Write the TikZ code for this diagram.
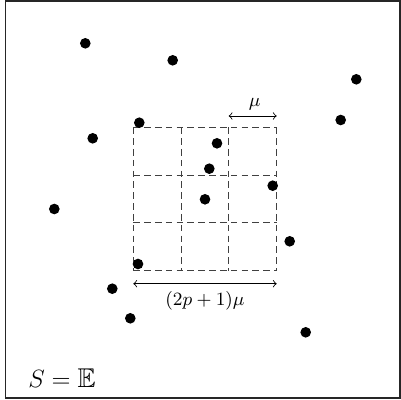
\documentclass[tikz,border=0pt]{standalone}
\usepackage{amssymb}
\begin{document}
\begin{tikzpicture}[x=0.48pt,y=-0.48pt,
  dot/.style={circle,fill=black,inner sep=0pt,minimum size=5.1pt},
  gridline/.style={dash pattern=on 3.2pt off 2pt,line width=0.45pt,black!75},
  dimarrow/.style={<->,line width=0.4pt}]
\useasboundingbox (0,0) rectangle (401,400);
\draw[line width=0.7pt,black!85] (5.5,0.8) rectangle (399.8,398.2);
% grid
\foreach \i in {0,1,2,3}{
  \draw[gridline] (133.3+47.8*\i,127.3) -- (133.3+47.8*\i,270.7);
  \draw[gridline] (133.3,127.3+47.8*\i) -- (276.7,127.3+47.8*\i);
}
% dots
\node[dot] (d1) at (85.3,43.3) {};
\node[dot] (d2) at (172.7,60.3) {};
\node[dot] (d3) at (356.3,79.3) {};
\node[dot] (d4) at (139.3,122.7) {};
\node[dot] (d5) at (340.7,120) {};
\node[dot] (d6) at (92.7,138.3) {};
\node[dot] (d7) at (217,143.3) {};
\node[dot] (d8) at (209.3,168.7) {};
\node[dot] (d9) at (272.7,185.7) {};
\node[dot] (d10) at (205,199.3) {};
\node[dot] (d11) at (54.3,209) {};
\node[dot] (d12) at (289.7,241.3) {};
\node[dot] (d13) at (138,264) {};
\node[dot] (d14) at (112.3,288.7) {};
\node[dot] (d15) at (130.3,318.3) {};
\node[dot] (d16) at (305.7,332.3) {};
% dimension arrows
\coordinate (m1) at (228.7,116);
\coordinate (m2) at (276.7,116);
\draw[dimarrow] (m1) -- (m2) node[midway,above=-0.5pt,xshift=1pt] (mulab) {\fontsize{9.5}{11}\selectfont$\mu$};
\coordinate (w1) at (133.3,283.7);
\coordinate (w2) at (276.7,283.7);
\draw[dimarrow] (w1) -- (w2) node[midway,below=0pt] (wlab) {\fontsize{9.5}{11}\selectfont$(2p+1)\mu$};
\node (slab) at (62,378) {\fontsize{13}{15}\selectfont$S=\mathbb{E}$};
\end{tikzpicture}
\end{document}
